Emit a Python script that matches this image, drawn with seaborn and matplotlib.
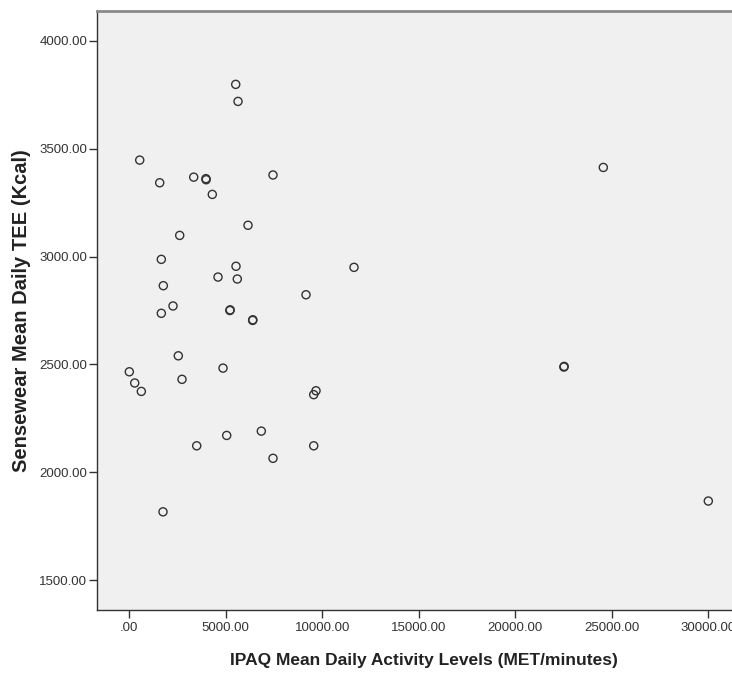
import matplotlib
matplotlib.use("Agg")
import matplotlib.pyplot as plt
import seaborn as sns
import pandas as pd
from matplotlib.ticker import FuncFormatter

# Data
ipaq_met = [5513, 5632, 539, 1575, 3337, 3970, 3980, 4300, 7445, 24558,
            6150, 2611, 1658, 4596, 5528, 5595, 1762, 2264, 1658, 5210,
            5225, 6390, 6400, 9155, 11642, 2539, 0, 280, 622, 4855,
            2730, 9673, 9554, 22515, 22530, 3492, 5046, 6839, 7445, 9554,
            1746, 29998]
tee_kcal = [3798, 3719, 3447, 3342, 3368, 3361, 3356, 3288, 3378, 3413,
            3145, 3098, 2987, 2905, 2955, 2896, 2865, 2771, 2737, 2750,
            2753, 2704, 2707, 2823, 2950, 2540, 2466, 2414, 2375, 2483,
            2431, 2378, 2360, 2488, 2491, 2123, 2171, 2191, 2065, 2123,
            1817, 1867]

x_ticks = [0, 5000, 10000, 15000, 20000, 25000, 30000]
y_ticks = [1500, 2000, 2500, 3000, 3500, 4000]

x_label = "IPAQ Mean Daily Activity Levels (MET/minutes)"
y_label = "Sensewear Mean Daily TEE (Kcal)"

df = pd.DataFrame({"x": ipaq_met, "y": tee_kcal})

plt.rcParams['font.family'] = ['Liberation Sans', 'DejaVu Sans']

fig = plt.figure(figsize=(7.32, 6.75), dpi=100)
W, H = 732, 675
left_px, right_px, top_px, bottom_px = 97, 750, 11, 610
ax = fig.add_axes([left_px / W, (H - bottom_px) / H,
                   (right_px - left_px) / W, (bottom_px - top_px) / H])
ax.set_facecolor("#F0F0F0")

sns.scatterplot(data=df, x="x", y="y", ax=ax, marker="o", s=34,
                facecolor="none", edgecolor="#333333", linewidth=1.0,
                legend=False)

ax.set_xlim(-1674, 32158)
ax.set_ylim(1362, 4138)
ax.set_xticks(x_ticks)
ax.set_yticks(y_ticks)

fmt = FuncFormatter(lambda v, p: ".00" if abs(v) < 1e-9 else f"{v:.2f}")
ax.xaxis.set_major_formatter(fmt)
ax.yaxis.set_major_formatter(fmt)

ax.tick_params(axis="both", direction="out", length=5.6, width=1.0,
               color="#333333", labelsize=9.5, labelcolor="#333333")
ax.tick_params(axis="x", pad=3)
ax.tick_params(axis="y", pad=1.5)

for s in ["left", "bottom"]:
    ax.spines[s].set_color("#333333")
    ax.spines[s].set_linewidth(1.0)
ax.spines["top"].set_color("#8a8a8a")
ax.spines["top"].set_linewidth(2.0)
ax.spines["right"].set_visible(False)

ax.set_xlabel(x_label, fontsize=12.5, fontweight="bold", color="#222222")
ax.set_ylabel(y_label, fontsize=14.5, fontweight="bold", color="#222222")
ax_w = right_px - left_px
ax_h = bottom_px - top_px
ax.yaxis.set_label_coords((22 - left_px) / ax_w, 0.5)
ax.xaxis.set_label_coords(0.5, -(661 - bottom_px) / ax_h)
ax.xaxis.label.set_va("center")
ax.yaxis.label.set_va("center")

fig.savefig("out.png", dpi=100, facecolor="white")
